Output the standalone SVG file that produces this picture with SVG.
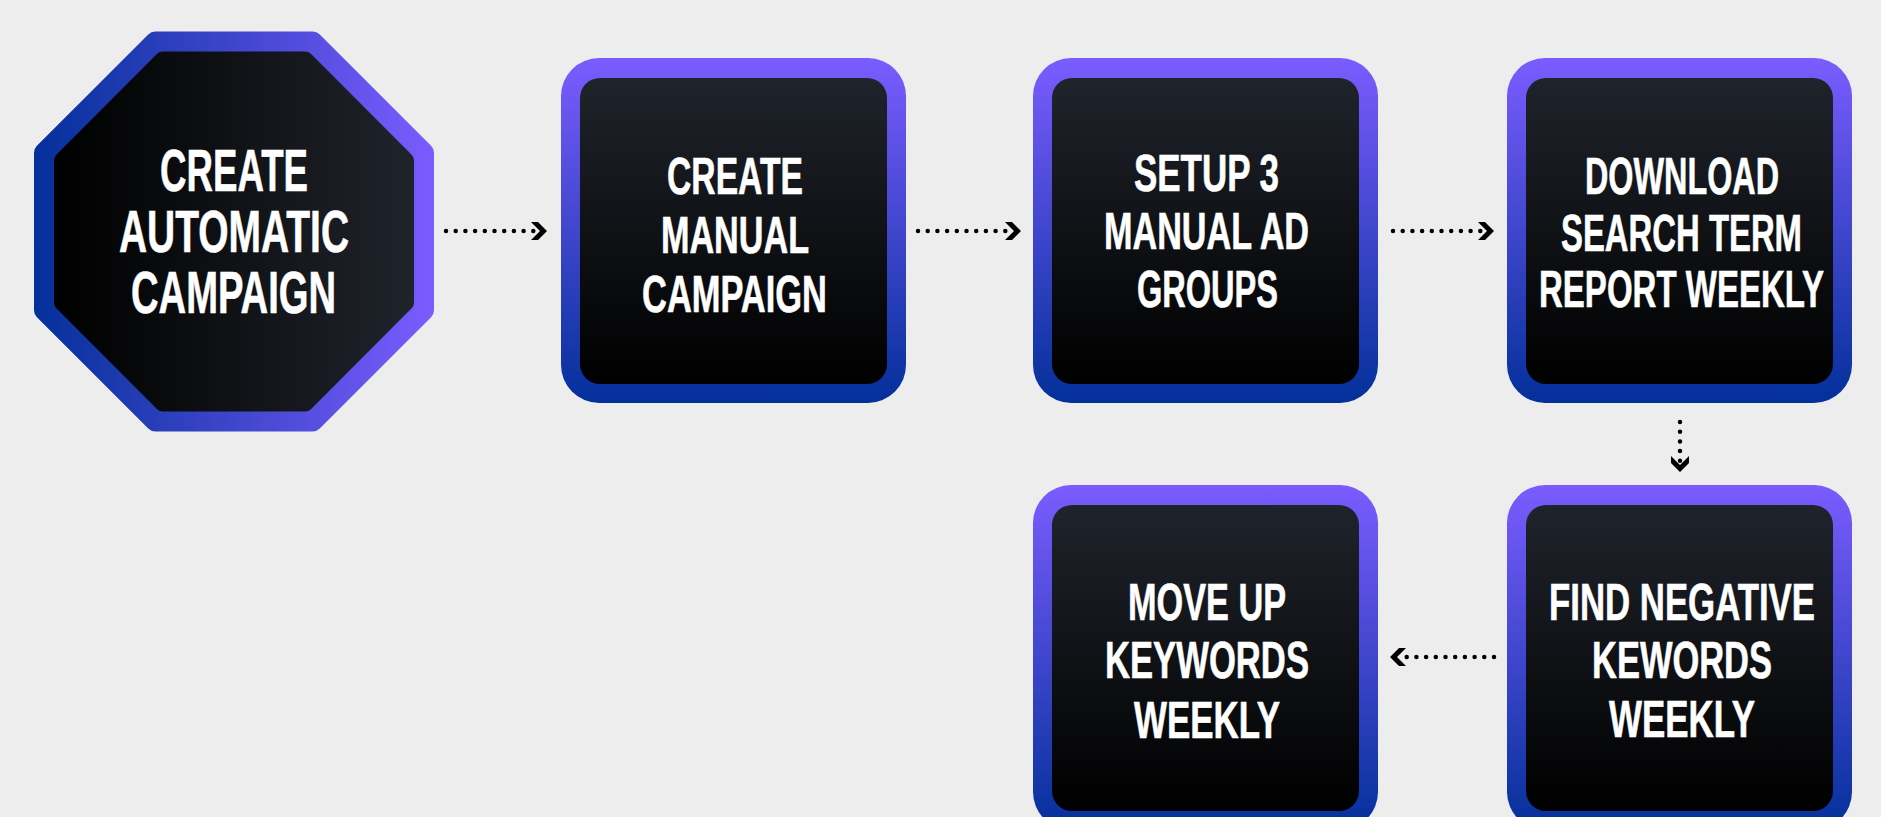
<svg xmlns="http://www.w3.org/2000/svg" width="1881" height="817" viewBox="0 0 1881 817">
<style>
.t{fill:#fff;font-family:"Liberation Sans",Arial,sans-serif;font-weight:bold;font-size:52px;stroke:#fff;stroke-width:0.6px}
.big{font-size:59px}
.ob{fill:url(#gOuterV)}
.ib{fill:url(#gInnerV)}
.dots{fill:none;stroke:#000;stroke-width:4.5;stroke-linecap:round;stroke-dasharray:0 9.7}
</style>
<defs>
<linearGradient id="gOuterV" x1="0" y1="0" x2="0" y2="1">
<stop offset="0" stop-color="#7b5cff"/>
<stop offset="1" stop-color="#03309a"/>
</linearGradient>
<linearGradient id="gInnerV" x1="0" y1="0" x2="0" y2="1">
<stop offset="0" stop-color="#1f232b"/>
<stop offset="1" stop-color="#000"/>
</linearGradient>
<linearGradient id="gOuterH" gradientUnits="userSpaceOnUse" x1="34" y1="0" x2="434" y2="0">
<stop offset="0" stop-color="#03309a"/>
<stop offset="1" stop-color="#7b5cff"/>
</linearGradient>
<linearGradient id="gInnerH" gradientUnits="userSpaceOnUse" x1="54" y1="0" x2="414" y2="0">
<stop offset="0" stop-color="#000"/>
<stop offset="1" stop-color="#1f232b"/>
</linearGradient>
<marker id="chev" viewBox="-20 -12 24 24" refX="-8" refY="0" markerWidth="24" markerHeight="24" markerUnits="userSpaceOnUse" orient="auto" overflow="visible">
<path d="M-16,-9 L-9,-9 L0,0 L-9,9 L-16,9 L-7,0 Z" fill="#000"/>
</marker>
</defs>
<rect x="0" y="0" width="1881" height="817" fill="#ededed"/>

<g id="connectors">
<line class="dots" x1="446" y1="231" x2="539" y2="231" marker-end="url(#chev)"/>
<line class="dots" x1="918" y1="231" x2="1013" y2="231" marker-end="url(#chev)"/>
<line class="dots" x1="1393" y1="231" x2="1486" y2="231" marker-end="url(#chev)"/>
<line class="dots" x1="1680" y1="422" x2="1680" y2="464" marker-end="url(#chev)"/>
<line class="dots" x1="1494" y1="657" x2="1398" y2="657" marker-end="url(#chev)"/>
</g>

<g id="node-auto">
<polygon points="155.3,41.5 312.7,41.5 424,152.8 424,310.2 312.7,421.5 155.3,421.5 44,310.2 44,152.8" fill="url(#gOuterH)" stroke="url(#gOuterH)" stroke-width="20" stroke-linejoin="round"/>
<polygon points="162.8,59.5 305.2,59.5 406,160.3 406,302.7 305.2,403.5 162.8,403.5 62,302.7 62,160.3" fill="url(#gInnerH)" stroke="url(#gInnerH)" stroke-width="16" stroke-linejoin="round"/>
<text class="t big" x="160" y="191" textLength="148" lengthAdjust="spacingAndGlyphs">CREATE</text>
<text class="t big" x="119" y="252" textLength="230" lengthAdjust="spacingAndGlyphs">AUTOMATIC</text>
<text class="t big" x="131" y="313" textLength="205" lengthAdjust="spacingAndGlyphs">CAMPAIGN</text>
</g>

<g id="node-manual">
<rect class="ob" x="561" y="58" width="345" height="345" rx="38"/>
<rect class="ib" x="580" y="78" width="307" height="306" rx="20"/>
<text class="t" x="667" y="194" textLength="136" lengthAdjust="spacingAndGlyphs">CREATE</text>
<text class="t" x="661" y="253" textLength="148" lengthAdjust="spacingAndGlyphs">MANUAL</text>
<text class="t" x="642" y="312" textLength="185" lengthAdjust="spacingAndGlyphs">CAMPAIGN</text>
</g>

<g id="node-adgroups">
<rect class="ob" x="1033" y="58" width="345" height="345" rx="38"/>
<rect class="ib" x="1052" y="78" width="307" height="306" rx="20"/>
<text class="t" x="1134" y="191" textLength="145" lengthAdjust="spacingAndGlyphs">SETUP 3</text>
<text class="t" x="1104" y="249" textLength="205" lengthAdjust="spacingAndGlyphs">MANUAL AD</text>
<text class="t" x="1137" y="307" textLength="141" lengthAdjust="spacingAndGlyphs">GROUPS</text>
</g>

<g id="node-download">
<rect class="ob" x="1507" y="58" width="345" height="345" rx="38"/>
<rect class="ib" x="1526" y="78" width="307" height="306" rx="20"/>
<text class="t" x="1585" y="194" textLength="194" lengthAdjust="spacingAndGlyphs">DOWNLOAD</text>
<text class="t" x="1561" y="251" textLength="241" lengthAdjust="spacingAndGlyphs">SEARCH TERM</text>
<text class="t" x="1539" y="307" textLength="285" lengthAdjust="spacingAndGlyphs">REPORT WEEKLY</text>
</g>

<g id="node-negative">
<rect class="ob" x="1507" y="485" width="345" height="345" rx="38"/>
<rect class="ib" x="1526" y="505" width="307" height="306" rx="20"/>
<text class="t" x="1549" y="620" textLength="266" lengthAdjust="spacingAndGlyphs">FIND NEGATIVE</text>
<text class="t" x="1592" y="678" textLength="180" lengthAdjust="spacingAndGlyphs">KEWORDS</text>
<text class="t" x="1609" y="737" textLength="146" lengthAdjust="spacingAndGlyphs">WEEKLY</text>
</g>

<g id="node-moveup">
<rect class="ob" x="1033" y="485" width="345" height="345" rx="38"/>
<rect class="ib" x="1052" y="505" width="307" height="306" rx="20"/>
<text class="t" x="1128" y="620" textLength="158" lengthAdjust="spacingAndGlyphs">MOVE UP</text>
<text class="t" x="1105" y="678" textLength="204" lengthAdjust="spacingAndGlyphs">KEYWORDS</text>
<text class="t" x="1134" y="738" textLength="146" lengthAdjust="spacingAndGlyphs">WEEKLY</text>
</g>
</svg>
